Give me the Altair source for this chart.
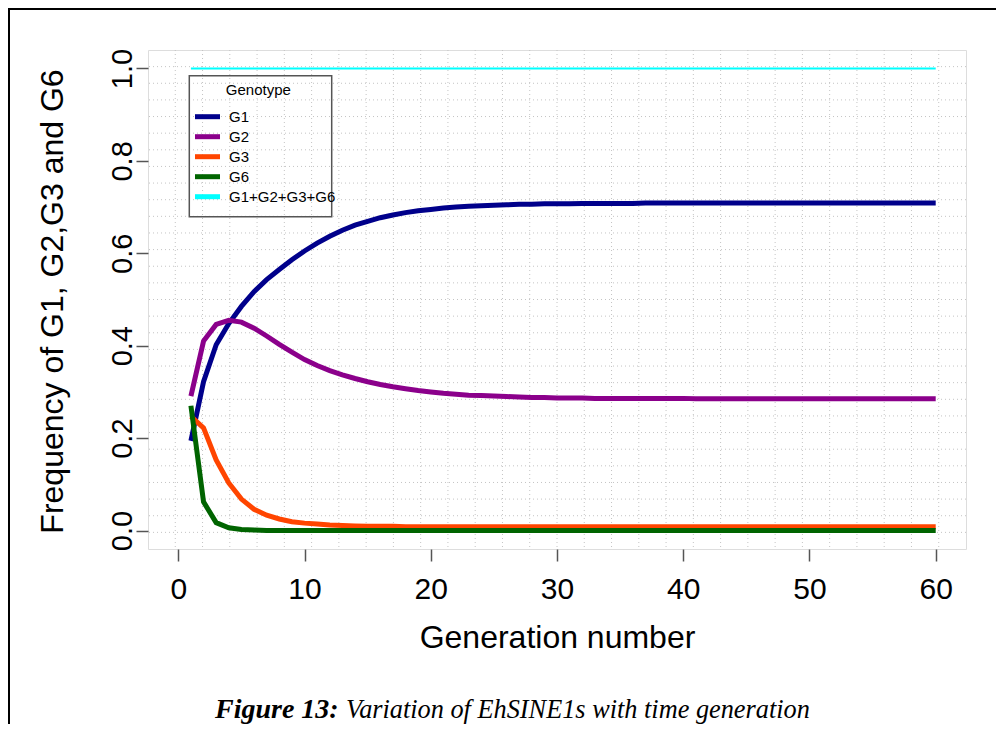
import altair as alt
import numpy as np
import pandas as pd

# ---------------- data ----------------
generation = list(range(1, 61))

g1 = [0.194, 0.322, 0.402, 0.448, 0.485, 0.517, 0.543, 0.565, 0.586, 0.605,
      0.622, 0.637, 0.650, 0.661, 0.669, 0.677, 0.683, 0.688, 0.692, 0.695,
      0.698, 0.700, 0.702, 0.703, 0.704, 0.705, 0.706, 0.706, 0.707, 0.707,
      0.707, 0.708, 0.708, 0.708, 0.708, 0.708, 0.709, 0.709, 0.709, 0.709,
      0.709, 0.709, 0.709, 0.709, 0.709, 0.709, 0.709, 0.709, 0.709, 0.709,
      0.709, 0.709, 0.709, 0.709, 0.709, 0.709, 0.709, 0.709, 0.709, 0.709]

g2 = [0.291, 0.410, 0.446, 0.455, 0.451, 0.438, 0.421, 0.403, 0.386, 0.370,
      0.357, 0.346, 0.337, 0.329, 0.322, 0.316, 0.311, 0.307, 0.303, 0.300,
      0.297, 0.295, 0.293, 0.292, 0.291, 0.290, 0.289, 0.288, 0.288, 0.287,
      0.287, 0.287, 0.286, 0.286, 0.286, 0.286, 0.286, 0.286, 0.286, 0.286,
      0.285, 0.285, 0.285, 0.285, 0.285, 0.285, 0.285, 0.285, 0.285, 0.285,
      0.285, 0.285, 0.285, 0.285, 0.285, 0.285, 0.285, 0.285, 0.285, 0.285]

g3 = [0.247, 0.222, 0.153, 0.103, 0.068, 0.046, 0.033, 0.025, 0.019, 0.016,
      0.014, 0.012, 0.011, 0.010, 0.009, 0.009, 0.009, 0.008, 0.008, 0.008,
      0.008, 0.008, 0.008, 0.008, 0.008, 0.008, 0.008, 0.008, 0.008, 0.008,
      0.008, 0.008, 0.008, 0.008, 0.008, 0.008, 0.008, 0.008, 0.008, 0.008,
      0.008, 0.008, 0.008, 0.008, 0.008, 0.008, 0.008, 0.008, 0.008, 0.008,
      0.008, 0.008, 0.008, 0.008, 0.008, 0.008, 0.008, 0.008, 0.008, 0.008]

g6 = [0.270, 0.062, 0.017, 0.006, 0.002, 0.001, 0.000, 0.000, 0.000, 0.000,
      0.000, 0.000, 0.000, 0.000, 0.000, 0.000, 0.000, 0.000, 0.000, 0.000,
      0.000, 0.000, 0.000, 0.000, 0.000, 0.000, 0.000, 0.000, 0.000, 0.000,
      0.000, 0.000, 0.000, 0.000, 0.000, 0.000, 0.000, 0.000, 0.000, 0.000,
      0.000, 0.000, 0.000, 0.000, 0.000, 0.000, 0.000, 0.000, 0.000, 0.000,
      0.000, 0.000, 0.000, 0.000, 0.000, 0.000, 0.000, 0.000, 0.000, 0.000]

total = [1.0] * 60

series_names = ["G1", "G2", "G3", "G6"]
legend_names = ["G1", "G2", "G3", "G6", "G1+G2+G3+G6"]
series_colors = ["#00008B", "#8B008B", "#FF4500", "#006400"]
legend_colors = series_colors + ["#00FFFF"]

x_ticks = [0, 10, 20, 30, 40, 50, 60]
y_ticks = [0.0, 0.2, 0.4, 0.6, 0.8, 1.0]

x_title = "Generation number"
y_title = "Frequency of G1, G2,G3 and G6"
legend_title = "Genotype"
caption_bold = "Figure 13:"
caption_rest = "Variation of EhSINE1s with time generation"

# ---------------- tables ----------------
rows = []
for name, vals in zip(series_names, [g1, g2, g3, g6]):
    for g, v in zip(generation, vals):
        rows.append({"gen": g, "value": v, "Genotype": name})
df = pd.DataFrame(rows)
sum_df = pd.DataFrame({"gen": generation, "value": total})

x_dom = [-2.4, 62.4]
y_dom = [-0.04, 1.04]
grid_x = pd.DataFrame({"gen": np.linspace(x_dom[0], x_dom[1], 31)[1:-1]})
grid_y = pd.DataFrame({"value": np.linspace(y_dom[0], y_dom[1], 31)[1:-1]})

xs = alt.Scale(domain=x_dom, nice=False, zero=False)
ys = alt.Scale(domain=y_dom, nice=False, zero=False)

FONT = "Liberation Sans"
W, H = 818, 499
TOP = 42  # plot top inside the svg

x_axis = alt.Axis(values=x_ticks, format="d", tickSize=12, tickWidth=1.5, tickColor="#555555",
                  domain=False, grid=False, labelFont=FONT, labelFontSize=30, labelColor="black",
                  labelPadding=13, labelFlush=False, title=x_title, titleFont=FONT, titleFontSize=32,
                  titleFontWeight="normal", titleColor="black", titleX=409, titleY=98,
                  titleBaseline="alphabetic", titleAlign="center")
y_axis = alt.Axis(values=y_ticks, format=".1f", tickSize=12, tickWidth=1.5, tickColor="#555555",
                  domain=False, grid=False, labelFont=FONT, labelFontSize=29, labelColor="black",
                  labelAngle=270, labelAlign="center", labelBaseline="alphabetic", labelPadding=5,
                  labelFlush=False, title=y_title, titleFont=FONT, titleFontSize=32,
                  titleFontWeight="normal", titleColor="black", titleAngle=270, titleX=-86,
                  titleY=251, titleAlign="center", titleBaseline="alphabetic")

grid_style = dict(color="#c4c4c4", strokeDash=[1, 3], strokeWidth=1)
vgrid = alt.Chart(grid_x).mark_rule(**grid_style).encode(
    x=alt.X("gen:Q", scale=xs, axis=x_axis))
hgrid = alt.Chart(grid_y).mark_rule(**grid_style).encode(
    y=alt.Y("value:Q", scale=ys, axis=y_axis))

lines = alt.Chart(df).mark_line(strokeWidth=5, strokeCap="butt").encode(
    x=alt.X("gen:Q", scale=xs, axis=x_axis),
    y=alt.Y("value:Q", scale=ys, axis=y_axis),
    color=alt.Color("Genotype:N", scale=alt.Scale(domain=series_names, range=series_colors), legend=None),
    detail="Genotype:N",
)
sum_line = alt.Chart(sum_df).mark_line(strokeWidth=2, color="#00FFFF").encode(
    x=alt.X("gen:Q", scale=xs, axis=x_axis),
    y=alt.Y("value:Q", scale=ys, axis=y_axis),
)

one = pd.DataFrame({"a": [0]})
caption1 = alt.Chart(one).mark_text(text=caption_bold, font="Liberation Serif", fontSize=28,
                                    fontWeight="bold", fontStyle="italic", align="left",
                                    baseline="alphabetic", color="black").encode(
    x=alt.value(67), y=alt.value(668))
caption2 = alt.Chart(one).mark_text(text=caption_rest, font="Liberation Serif", fontSize=26.3,
                                    fontStyle="italic", align="left", baseline="alphabetic",
                                    color="black").encode(
    x=alt.value(198), y=alt.value(668))
border_left = alt.Chart(one).mark_rule(color="black", strokeWidth=2).encode(
    x=alt.value(-139), y=alt.value(-45), y2=alt.value(720))
border_top = alt.Chart(one).mark_rule(color="black", strokeWidth=2).encode(
    x=alt.value(-141), x2=alt.value(860), y=alt.value(-41))

main = alt.layer(vgrid, hgrid, lines, sum_line, caption1, caption2, border_left, border_top)

# ---------------- manual legend ----------------
leg_df = pd.DataFrame({"Genotype": legend_names, "col": legend_colors})
leg_y = alt.Y("Genotype:N", scale=alt.Scale(type="point", domain=legend_names, range=[66.7, 146.7], padding=0),
              axis=None)
leg_box = alt.Chart(one).mark_rect(filled=False, stroke="#555555", strokeWidth=1.5).encode(
    x=alt.value(41.3), x2=alt.value(183.7), y=alt.value(25.7), y2=alt.value(166.7))
leg_title = alt.Chart(one).mark_text(text=legend_title, font=FONT, fontSize=15, align="center",
                                     baseline="middle", color="black").encode(
    x=alt.value(110.3), y=alt.value(40))
leg_sym = alt.Chart(leg_df).mark_rule(strokeWidth=5).encode(
    x=alt.value(47), x2=alt.value(72), y=leg_y,
    color=alt.Color("col:N", scale=None, legend=None))
leg_txt = alt.Chart(leg_df).mark_text(font=FONT, fontSize=15, align="left", baseline="middle",
                                      color="black").encode(
    x=alt.value(81), y=leg_y, text="Genotype:N")
legend = alt.layer(leg_box, leg_title, leg_sym, leg_txt)

chart = alt.layer(main, legend).resolve_scale(y="independent", color="independent").properties(
    width=W, height=H, autosize="none",
    padding={"left": 140, "top": TOP, "right": 30, "bottom": 175},
).configure_view(stroke="#666666", strokeWidth=2).configure(background="white")

chart.save("out.html", embed_options={"renderer": "svg", "actions": False})
